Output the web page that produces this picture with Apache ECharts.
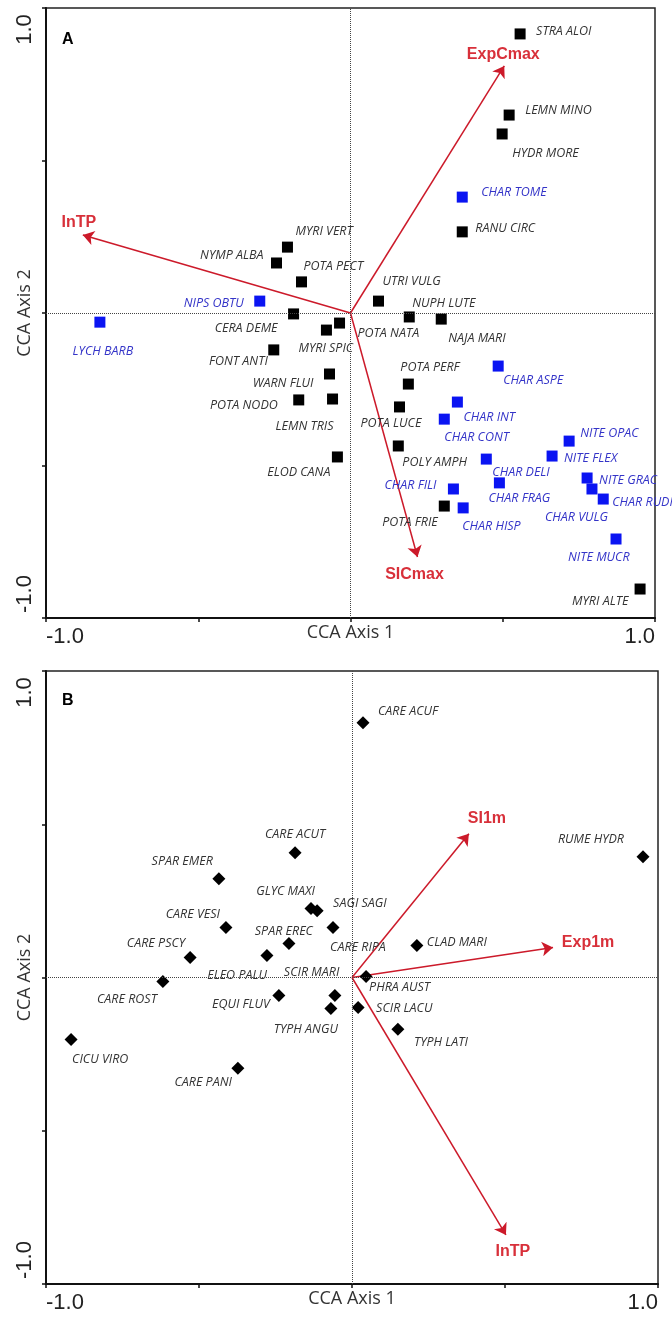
<!DOCTYPE html>
<html><head><meta charset="utf-8">
<script src="https://cdn.jsdelivr.net/npm/echarts@6/dist/echarts.min.js"></script>
<style>html,body{margin:0;padding:0;background:#fff}#c{width:672px;height:1317px}</style>
</head><body><div id="c"></div>
<script>
// ---------- Panel A: vascular plants (black squares) ----------
const aVascNames = ['STRA ALOI','LEMN MINO','HYDR MORE','RANU CIRC','MYRI VERT','NYMP ALBA','POTA PECT','UTRI VULG','CERA DEME','NUPH LUTE','NAJA MARI','POTA NATA','MYRI SPIC','FONT ANTI','WARN FLUI','POTA PERF','POTA NODO','LEMN TRIS','POTA LUCE','POLY AMPH','ELOD CANA','POTA FRIE','MYRI ALTE'];
const aVascX = [0.557,0.521,0.498,0.367,-0.207,-0.243,-0.161,0.092,-0.187,0.193,0.298,-0.036,-0.079,-0.252,-0.069,0.190,-0.170,-0.059,0.161,0.157,-0.043,0.308,0.951];
const aVascY = [0.915,0.649,0.587,0.266,0.216,0.164,0.102,0.039,-0.003,-0.013,-0.020,-0.033,-0.056,-0.121,-0.200,-0.233,-0.285,-0.282,-0.308,-0.436,-0.472,-0.633,-0.905];
// ---------- Panel A: charophytes (blue squares) ----------
const aCharNames = ['CHAR TOME','NIPS OBTU','LYCH BARB','CHAR ASPE','CHAR INT','CHAR CONT','NITE OPAC','NITE FLEX','CHAR DELI','NITE GRAC','CHAR FRAG','CHAR FILI','CHAR VULG','CHAR RUDI','CHAR HISP','NITE MUCR'];
const aCharX = [0.367,-0.298,-0.823,0.485,0.351,0.308,0.718,0.662,0.446,0.777,0.489,0.338,0.793,0.830,0.370,0.872];
const aCharY = [0.380,0.039,-0.030,-0.174,-0.292,-0.348,-0.420,-0.469,-0.479,-0.541,-0.557,-0.577,-0.577,-0.610,-0.639,-0.741];
// ---------- Panel A: environmental vectors ----------
const aEnvNames = ['InTP','ExpCmax','SICmax'];
const aEnvX = [-0.879,0.505,0.220];
const aEnvY = [0.256,0.810,-0.800];
// ---------- Panel B: species (black diamonds) ----------
const bNames = ['CARE ACUF','CARE ACUT','RUME HYDR','SPAR EMER','GLYC MAXI','SAGI SAGI','CARE VESI','CARE RIPA','CLAD MARI','SPAR EREC','CARE PSCY','ELEO PALU','SCIR MARI','CARE ROST','PHRA AUST','EQUI FLUV','TYPH ANGU','SCIR LACU','TYPH LATI','CICU VIRO','CARE PANI'];
const bX = [0.036,-0.186,0.951,-0.435,-0.134,-0.114,-0.412,-0.062,0.212,-0.206,-0.529,-0.278,-0.056,-0.618,0.046,-0.239,-0.069,0.020,0.150,-0.918,-0.373];
const bY = [0.831,0.407,0.394,0.322,0.225,0.218,0.163,0.163,0.104,0.111,0.065,0.072,-0.059,-0.013,0.003,-0.059,-0.101,-0.098,-0.169,-0.202,-0.296];
// ---------- Panel B: environmental vectors ----------
const bEnvNames = ['SI1m','Exp1m','InTP'];
const bEnvX = [0.382,0.657,0.503];
const bEnvY = [0.469,0.098,-0.840];
// ---------- axis ----------
const axisTicks = [-1,-0.5,0,0.5,1];
const axisTickLabels = ['-1.0','','','','1.0'];
const axisTitles = ['CCA Axis 1','CCA Axis 2'];
const panelLetters = ['A','B'];

// ---------- label layout (pixel offsets, alignment) ----------
const layoutA = {
 'STRA ALOI':[16,-2,'left'],'LEMN MINO':[16,-5,'left'],'HYDR MORE':[10,19,'left'],'RANU CIRC':[13,-3,'left'],
 'MYRI VERT':[8,-16,'left'],'NYMP ALBA':[-13,-8,'right'],'POTA PECT':[2,-15,'left'],'UTRI VULG':[4,-20,'left'],
 'CERA DEME':[-16,15,'right'],'NUPH LUTE':[3,-14,'left'],'NAJA MARI':[7,19,'left'],'POTA NATA':[18,10,'left'],
 'MYRI SPIC':[-28,18,'left'],'FONT ANTI':[-6,12,'right'],'WARN FLUI':[-16,9,'right'],'POTA PERF':[-8,-17,'left'],
 'POTA NODO':[-21,6,'right'],'LEMN TRIS':[1,27,'right'],'POTA LUCE':[-39,16,'left'],'POLY AMPH':[4,16,'left'],
 'ELOD CANA':[-7,15,'right'],'POTA FRIE':[-62,16,'left'],'MYRI ALTE':[-68,12,'left'],
 'CHAR TOME':[19,-5,'left'],'NIPS OBTU':[-16,2,'right'],'LYCH BARB':[3,29,'center'],'CHAR ASPE':[5,14,'left'],
 'CHAR INT':[6,15,'left'],'CHAR CONT':[0,18,'left'],'NITE OPAC':[11,-8,'left'],'NITE FLEX':[12,2,'left'],
 'CHAR DELI':[6,13,'left'],'NITE GRAC':[12,2,'left'],'CHAR FRAG':[-11,16,'left'],'CHAR FILI':[-17,-4,'right'],
 'CHAR VULG':[-47,28,'left'],'CHAR RUDI':[9,3,'left'],'CHAR HISP':[-1,19,'left'],'NITE MUCR':[-48,18,'left']
};
const layoutB = {
 'CARE ACUF':[15,-11,'left'],'CARE ACUT':[0,-18,'center'],'RUME HYDR':[-19,-17,'right'],'SPAR EMER':[-6,-17,'right'],
 'GLYC MAXI':[4,-17,'right'],'SAGI SAGI':[16,-7,'left'],'CARE VESI':[-6,-13,'right'],'CARE RIPA':[-3,20,'left'],
 'CLAD MARI':[10,-3,'left'],'SPAR EREC':[24,-12,'right'],'CARE PSCY':[-5,-14,'right'],'ELEO PALU':[0,20,'right'],
 'SCIR MARI':[-51,-23,'left'],'CARE ROST':[-6,18,'right'],'PHRA AUST':[3,11,'left'],'EQUI FLUV':[-9,9,'right'],
 'TYPH ANGU':[7,21,'right'],'SCIR LACU':[18,1,'left'],'TYPH LATI':[16,13,'left'],'CICU VIRO':[1,20,'left'],
 'CARE PANI':[-6,14,'right']
};
const envLayoutA = [[-4,-12],[-1,-11],[-3,18]];
const envLayoutB = [[18,-15],[35,-5],[7,17]];

const LABEL_FONT = '"Open Sans", "Noto Sans", sans-serif';
const NUM_FONT = '"Liberation Sans", Arial, sans-serif';
const RED_LINE = '#cc1a2a';
const RED_TEXT = '#d8303a';

function pts(names, xs, ys, layout, color) {
  return names.map((n, i) => {
    const l = layout[n] || [8, 0, 'left'];
    return {
      name: n, value: [xs[i], ys[i]],
      label: { offset: [l[0], l[1]], align: l[2], color: color }
    };
  });
}
function envLines(xs, ys) {
  return xs.map((x, i) => ({ coords: [[0, 0], [x, ys[i]]] }));
}
function envLabels(names, xs, ys, lay) {
  return names.map((n, i) => ({ name: n, value: [xs[i], ys[i]], label: { offset: lay[i] } }));
}
function tickFmt(v) {
  const i = axisTicks.findIndex(t => Math.abs(t - v) < 1e-9);
  return i >= 0 ? axisTickLabels[i] : '';
}
function xAxisCfg(gi) {
  return {
    type: 'value', gridIndex: gi, min: -1, max: 1, interval: 0.5,
    axisLine: { show: true, onZero: false, lineStyle: { color: '#111', width: 2 } },
    axisTick: { show: true, length: 4, lineStyle: { color: '#111', width: 1.5 } },
    splitLine: { show: false },
    axisLabel: {
      formatter: tickFmt, fontSize: 22, color: '#222', fontFamily: NUM_FONT,
      margin: 8, showMinLabel: true, showMaxLabel: true, alignMinLabel: 'left', alignMaxLabel: 'right'
    },
    name: axisTitles[0], nameLocation: 'middle', nameGap: 6, nameMoveOverlap: false,
    nameTextStyle: { fontSize: 18, color: '#333', fontFamily: LABEL_FONT, verticalAlign: 'top' }
  };
}
function yAxisCfg(gi) {
  return {
    type: 'value', gridIndex: gi, min: -1, max: 1, interval: 0.5,
    axisLine: { show: true, onZero: false, lineStyle: { color: '#111', width: 2 } },
    axisTick: { show: true, length: 4, lineStyle: { color: '#111', width: 1.5 } },
    splitLine: { show: false },
    axisLabel: {
      rotate: 90, margin: 10, showMinLabel: true, showMaxLabel: true,
      formatter: v => { const s = tickFmt(v); if (!s) return ''; return v > 0 ? '{t|' + s + '}' : '{b|' + s + '}'; },
      rich: {
        t: { fontSize: 22, color: '#222', fontFamily: NUM_FONT, padding: [0, 43, 0, 0] },
        b: { fontSize: 22, color: '#222', fontFamily: NUM_FONT, padding: [0, 0, 0, 48] }
      }
    },
    name: axisTitles[1], nameLocation: 'middle', nameGap: 12, nameRotate: 90, nameMoveOverlap: false,
    nameTextStyle: { fontSize: 18, color: '#333', fontFamily: LABEL_FONT }
  };
}
const zeroLines = {
  silent: true, symbol: 'none', label: { show: false },
  lineStyle: { color: '#444', width: 1, type: 'dotted' },
  data: [{ xAxis: 0 }, { yAxis: 0 }]
};
const speciesLabel = { show: true, formatter: '{b}', position: 'inside', verticalAlign: 'middle', fontSize: 12.5, fontStyle: 'italic', fontFamily: LABEL_FONT };
const envLabelStyle = { show: true, formatter: '{b}', position: 'inside', align: 'center', verticalAlign: 'middle', fontSize: 16, fontWeight: 'bold', color: RED_TEXT, opacity: 1, fontFamily: NUM_FONT };

const chart = echarts.init(document.getElementById('c'), null, { renderer: 'canvas' });
chart.setOption({
  animation: false,
  backgroundColor: '#fff',
  title: [
    { text: panelLetters[0], left: 57, top: 27, textStyle: { fontSize: 16, fontWeight: 'bold', color: '#000', fontFamily: NUM_FONT } },
    { text: panelLetters[1], left: 57, top: 688, textStyle: { fontSize: 16, fontWeight: 'bold', color: '#000', fontFamily: NUM_FONT } }
  ],
  grid: [
    { left: 46, top: 8, width: 609, height: 610, show: true, borderColor: '#222', borderWidth: 1.5, backgroundColor: 'transparent', containLabel: false, outerBoundsMode: 'none' },
    { left: 46, top: 671, width: 612, height: 613, show: true, borderColor: '#222', borderWidth: 1.5, backgroundColor: 'transparent', containLabel: false, outerBoundsMode: 'none' }
  ],
  xAxis: [xAxisCfg(0), xAxisCfg(1)],
  yAxis: [yAxisCfg(0), yAxisCfg(1)],
  series: [
    { type: 'scatter', xAxisIndex: 0, yAxisIndex: 0, symbol: 'none', data: [[0, 0]], markLine: zeroLines, z: 1 },
    { type: 'scatter', xAxisIndex: 1, yAxisIndex: 1, symbol: 'none', data: [[0, 0]], markLine: zeroLines, z: 1 },
    { type: 'lines', coordinateSystem: 'cartesian2d', xAxisIndex: 0, yAxisIndex: 0, symbol: ['none', 'arrow'], symbolSize: 11,
      lineStyle: { color: RED_LINE, width: 1.5, opacity: 1 }, data: envLines(aEnvX, aEnvY), z: 3 },
    { type: 'lines', coordinateSystem: 'cartesian2d', xAxisIndex: 1, yAxisIndex: 1, symbol: ['none', 'arrow'], symbolSize: 11,
      lineStyle: { color: RED_LINE, width: 1.5, opacity: 1 }, data: envLines(bEnvX, bEnvY), z: 3 },
    { type: 'scatter', xAxisIndex: 0, yAxisIndex: 0, symbol: 'rect', symbolSize: 11, itemStyle: { color: '#000', opacity: 1 },
      label: speciesLabel, data: pts(aVascNames, aVascX, aVascY, layoutA, '#333'), z: 4 },
    { type: 'scatter', xAxisIndex: 0, yAxisIndex: 0, symbol: 'rect', symbolSize: 11, itemStyle: { color: '#0a14f2', opacity: 1 },
      label: speciesLabel, data: pts(aCharNames, aCharX, aCharY, layoutA, '#3434c8'), z: 4 },
    { type: 'scatter', xAxisIndex: 1, yAxisIndex: 1, symbol: 'diamond', symbolSize: 13, itemStyle: { color: '#000', opacity: 1 },
      label: speciesLabel, data: pts(bNames, bX, bY, layoutB, '#333'), z: 4 },
    { type: 'scatter', xAxisIndex: 0, yAxisIndex: 0, symbol: 'circle', symbolSize: 2, itemStyle: { color: 'rgba(0,0,0,0)', opacity: 1 }, label: envLabelStyle, data: envLabels(aEnvNames, aEnvX, aEnvY, envLayoutA), z: 5 },
    { type: 'scatter', xAxisIndex: 1, yAxisIndex: 1, symbol: 'circle', symbolSize: 2, itemStyle: { color: 'rgba(0,0,0,0)', opacity: 1 }, label: envLabelStyle, data: envLabels(bEnvNames, bEnvX, bEnvY, envLayoutB), z: 5 }
  ]
});
</script></body></html>
